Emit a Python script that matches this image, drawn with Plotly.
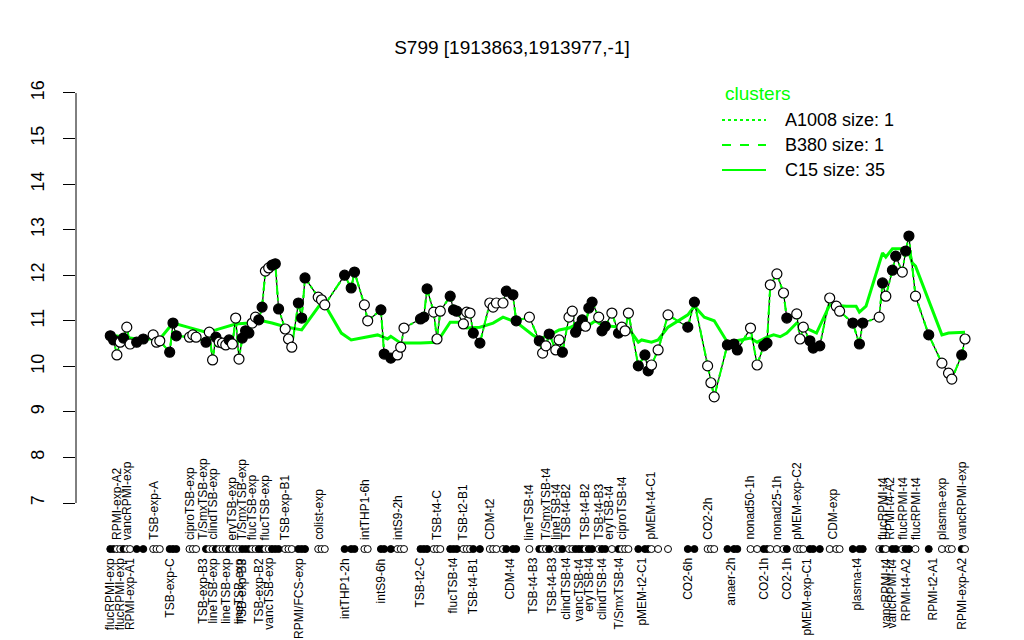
import plotly.graph_objects as go

# ---------------- data ----------------
sample_idx = [1, 2, 3, 4, 5, 6, 7, 9, 11, 14, 15, 16, 19, 20, 21, 25, 26, 27, 30, 31,
              32, 33, 34, 35, 36, 37, 38, 39, 40, 41, 42, 43, 44, 45, 46, 47, 48, 49, 50, 51,
              52, 54, 55, 56, 58, 59, 60, 64, 65, 66, 72, 74, 75, 78, 79, 83, 84, 86, 88, 89,
              90, 95, 96, 97, 99, 100, 101, 104, 105, 106, 108, 109, 110, 111, 113, 116, 117, 118, 120, 121,
              123, 124, 128, 131, 132, 133, 134, 136, 137, 138, 140, 141, 142, 143, 144, 145, 146, 147, 149, 150,
              151, 153, 155, 156, 157, 158, 161, 163, 164, 165, 167, 170, 176, 178, 182, 183, 184, 188, 190, 191,
              195, 197, 199, 200, 201, 203, 205, 206, 209, 210, 211, 213, 214, 216, 219, 221, 222, 226, 228, 229,
              234, 235, 236, 238, 239, 241, 242, 243, 245, 249, 253, 255, 256, 259, 260]
expr = [10.67, 10.58, 10.25, 10.53, 10.62, 10.86, 10.49, 10.53, 10.60, 10.69, 10.53, 10.56, 10.31, 10.95, 10.67, 10.64, 10.69, 10.64, 10.53, 10.75,
        10.14, 10.64, 10.53, 10.51, 10.47, 10.58, 10.49, 11.06, 10.16, 10.62, 10.78, 10.73, 10.95, 11.08, 11.02, 11.30, 12.09, 12.16, 12.22, 12.25,
        11.26, 10.82, 10.60, 10.42, 11.39, 11.06, 11.94, 11.52, 11.46, 11.35, 12.00, 11.72, 12.07, 11.35, 11.00, 11.24, 10.27, 10.18, 10.25, 10.42,
        10.84, 11.04, 11.08, 11.70, 11.19, 10.60, 11.21, 11.54, 11.24, 11.21, 10.93, 11.19, 11.17, 10.73, 10.51, 11.39, 11.30, 11.39, 11.39, 11.65,
        11.57, 11.00, 11.08, 10.56, 10.29, 10.45, 10.71, 10.36, 10.58, 10.31, 11.08, 11.21, 10.75, 10.88, 11.02, 10.88, 11.28, 11.41, 11.08, 10.78,
        10.88, 11.17, 10.73, 10.86, 10.78, 11.17, 10.01, 10.25, 9.90, 10.03, 10.36, 11.13, 10.86, 11.41, 10.01, 9.64, 9.33, 10.47, 10.49, 10.36,
        10.84, 10.03, 10.45, 10.51, 11.79, 12.03, 11.61, 11.06, 11.15, 10.60, 10.86, 10.56, 10.40, 10.45, 11.50, 11.32, 11.21, 10.95, 10.49, 10.95,
        11.08, 11.83, 11.54, 12.11, 12.42, 12.07, 12.53, 12.86, 11.54, 10.69, 10.07, 9.85, 9.72, 10.25, 10.60]
filled = [1, 1, 0, 0, 1, 0, 0, 1, 1, 0, 0, 0, 1, 1, 1, 0, 0, 0, 1, 0,
          0, 1, 0, 0, 0, 1, 0, 0, 0, 1, 1, 1, 0, 0, 1, 1, 0, 0, 1, 1,
          1, 0, 0, 0, 1, 1, 1, 0, 0, 0, 1, 1, 1, 0, 0, 1, 1, 1, 0, 0,
          0, 1, 1, 1, 0, 0, 0, 1, 1, 1, 0, 0, 0, 1, 1, 0, 0, 0, 0, 1,
          1, 1, 0, 1, 0, 0, 1, 0, 0, 1, 0, 0, 1, 1, 1, 0, 1, 1, 0, 1,
          1, 0, 1, 0, 0, 0, 1, 1, 1, 0, 0, 0, 1, 1, 0, 0, 0, 1, 1, 1,
          0, 0, 1, 1, 0, 0, 0, 1, 0, 0, 0, 1, 1, 1, 0, 0, 0, 1, 1, 1,
          0, 1, 0, 1, 1, 0, 1, 1, 0, 1, 0, 0, 0, 1, 0]

# cluster C15 (size 35) mean profile
c15_idx = [0, 4, 9, 16, 20, 25, 30, 33, 36, 39, 43, 47, 50, 54, 59, 65, 66, 71, 74, 82,
           85, 86, 89, 95, 100, 104, 107, 109, 113, 117, 120, 124, 129, 131, 135, 137, 140, 143, 146, 148,
           150, 155, 158, 161, 162, 165, 167, 170, 173, 176, 178, 181, 184, 188, 192, 195, 197, 200, 202, 204,
           206, 209, 213, 215, 219, 224, 227, 228, 230, 235, 236, 238, 241, 243, 244, 245, 253, 255, 260]
c15_val = [10.70, 10.65, 10.60, 10.60, 10.95, 10.85, 10.75, 10.80, 10.86, 10.93, 10.95, 11.00, 10.95, 10.87, 10.80, 11.40, 11.35, 10.73, 10.58, 10.69,
           10.60, 10.66, 10.51, 10.51, 10.53, 10.97, 10.97, 10.84, 10.86, 10.95, 11.08, 10.97, 10.69, 10.60, 10.72, 10.80, 10.84, 10.95, 10.90, 11.00,
           10.90, 10.86, 10.84, 10.53, 10.58, 10.53, 10.58, 10.86, 11.00, 11.13, 11.32, 11.08, 11.00, 10.53, 10.58, 10.62, 10.53, 10.64, 10.69, 10.65,
           10.73, 10.95, 10.80, 10.73, 11.35, 11.32, 11.32, 11.19, 11.32, 12.49, 12.40, 12.58, 12.58, 12.50, 12.27, 12.20, 10.69, 10.73, 10.75]

top_label_idx = [3, 6, 14, 25, 29, 32, 38, 41, 44, 48, 54, 64, 78, 88, 100, 108, 116, 128, 133, 136,
                 139, 145, 149, 152, 156, 165, 182, 195, 203, 209, 220, 235, 237, 241, 245, 253, 259]
top_label_text = ["RPMI-exp-A2", "vancRPMI-exp", "TSB-exp-A", "ciproTSB-exp", "T/SmxTSB-exp",
                  "clindTSB-exp", "eryTSB-exp", "T/SmxTSB-exp", "flucTSB-exp", "flucTSB-exp",
                  "TSB-exp-B1", "colist-exp", "intTHP1-6h", "intS9-2h", "TSB-t4-C", "TSB-t2-B1",
                  "CDM-t2", "lineTSB-t4", "T/SmxTSB-t4", "lineTSB-t4", "TSB-t4-B2", "TSB-t4-B2",
                  "TSB-t4-B3", "eryTSB-t4", "ciproTSB-t4", "pMEM-t4-C1", "CO2-2h", "nonad50-1h",
                  "nonad25-1h", "pMEM-exp-C2", "CDM-exp", "flucRPMI-t4", "RPMI-t4-A2",
                  "flucRPMI-t4", "flucRPMI-t4", "plasma-exp", "vancRPMI-exp"]
bottom_label_idx = [1, 4, 7, 19, 29, 32, 36, 40, 41, 46, 49, 58, 72, 83, 95, 105, 111, 122, 129, 135,
                    139, 143, 146, 150, 155, 162, 176, 189, 199, 206, 212, 227, 236, 238, 242, 250, 259]
bottom_label_text = ["flucRPMI-exp", "flucRPMI-exp", "RPMI-exp-A1", "TSB-exp-C", "TSB-exp-B3",
                     "lineTSB-exp", "lineTSB-exp", "lineTSB-exp", "TSB-exp-B3", "TSB-exp-B2",
                     "vancTSB-exp", "RPMI/FCS-exp", "intTHP1-2h", "intS9-6h", "TSB-t2-C",
                     "flucTSB-t4", "TSB-t4-B1", "CDM-t4", "TSB-t4-B3", "TSB-t4-B3", "clindTSB-t4",
                     "vancTSB-t4", "eryTSB-t4", "clindTSB-t4", "T/SmxTSB-t4", "pMEM-t2-C1",
                     "CO2-6h", "anaer-2h", "CO2-1h", "CO2-1h", "pMEM-exp-C1", "plasma-t4",
                     "vancRPMI-t4", "vancRPMI-t4", "RPMI-t4-A2", "RPMI-t2-A1", "RPMI-exp-A2"]

y_ticks = [7, 8, 9, 10, 11, 12, 13, 14, 15, 16]
legend_names = ["A1008 size: 1", "B380 size: 1", "C15 size: 35"]
title_text = "S799 [1913863,1913977,-1]"

# ---------------- layout helpers ----------------
GREEN = "#00FF00"
FONT = "Liberation Sans, Arial, Helvetica, sans-serif"
OFF = 8                      # default page body margin of the html page
W, H = 1024 - OFF, 640 - OFF
L, T, B, R = 76 - OFF, 80 - OFF, 10, 24
PW, PH = W - L - R, H - T - B   # 924 x 550


def px(xp):   # page pixel -> paper x
    return (xp - OFF - L) / PW


def py(yp):   # page pixel -> paper y
    return (H - B - (yp - OFF)) / PH


Y_RANGE = [4.213, 16.285]
DOT_ROW_Y = 5.99
TOP_LAB_Y = 6.166
BOT_LAB_Y = 5.815
X_RANGE = [-9.39, 270.6]
LAB_SIZE = 12

fig = go.Figure()

# cluster mean line (C15)
fig.add_trace(go.Scatter(x=c15_idx, y=c15_val, mode="lines",
                         line=dict(color=GREEN, width=3), hoverinfo="skip", showlegend=False))
# gene profile (black) with green dashed / dotted single-member clusters on top
fig.add_trace(go.Scatter(x=sample_idx, y=expr, mode="lines",
                         line=dict(color="black", width=1.2), showlegend=False))
fig.add_trace(go.Scatter(x=sample_idx, y=expr, mode="lines",
                         line=dict(color=GREEN, width=2, dash="dash"), showlegend=False))
fig.add_trace(go.Scatter(x=sample_idx, y=expr, mode="lines",
                         line=dict(color=GREEN, width=2, dash="dot"), showlegend=False))

colors = ["black" if f else "white" for f in filled]
fig.add_trace(go.Scatter(x=sample_idx, y=expr, mode="markers",
                         marker=dict(size=10, color=colors, line=dict(color="black", width=1.2)),
                         showlegend=False))
# sample dot row
fig.add_trace(go.Scatter(x=sample_idx, y=[DOT_ROW_Y] * len(sample_idx), mode="markers",
                         marker=dict(size=7, color=colors, line=dict(color="black", width=1)),
                         showlegend=False, cliponaxis=False))

annotations = []
for i, t in zip(top_label_idx, top_label_text):
    annotations.append(dict(x=i, y=TOP_LAB_Y, xref="x", yref="y", text=t, textangle=-90,
                            showarrow=False, xanchor="center", yanchor="bottom",
                            font=dict(family=FONT, size=LAB_SIZE, color="black"), borderpad=0))
for i, t in zip(bottom_label_idx, bottom_label_text):
    annotations.append(dict(x=i, y=BOT_LAB_Y, xref="x", yref="y", text=t, textangle=-90,
                            showarrow=False, xanchor="center", yanchor="top",
                            font=dict(family=FONT, size=LAB_SIZE, color="black"), borderpad=0))

# legend (drawn manually, R style)
annotations.append(dict(x=px(757), y=py(93), xref="paper", yref="paper", text="clusters",
                        showarrow=False, xanchor="center", yanchor="middle",
                        font=dict(family=FONT, size=19, color=GREEN)))
shapes = []
for name, dash, yp in zip(legend_names, ["dot", "dash", "solid"], [120, 145, 170]):
    shapes.append(dict(type="line", xref="paper", yref="paper", x0=px(722), x1=px(766),
                       y0=py(yp), y1=py(yp), line=dict(color=GREEN, width=2, dash=dash)))
    annotations.append(dict(x=px(783), y=py(yp), xref="paper", yref="paper", text=name,
                            showarrow=False, xanchor="left", yanchor="middle",
                            font=dict(family=FONT, size=18, color="black")))

# y axis line spanning only 7..16
shapes.append(dict(type="line", xref="paper", yref="y", x0=0, x1=0, y0=y_ticks[0], y1=y_ticks[-1],
                   line=dict(color="black", width=1)))

fig.update_layout(
    width=W, height=H,
    margin=dict(l=L, r=R, t=T, b=B),
    paper_bgcolor="white", plot_bgcolor="white",
    title=dict(text=title_text, x=(512 - OFF) / W, xref="container", y=1 - (47 - OFF) / H,
               yref="container", xanchor="center", yanchor="middle",
               font=dict(family=FONT, size=19, color="black")),
    xaxis=dict(range=X_RANGE, visible=False, showgrid=False, zeroline=False),
    yaxis=dict(range=Y_RANGE, tickvals=y_ticks, ticktext=[str(v) for v in y_ticks],
               ticks="outside", ticklen=12, tickcolor="black", tickwidth=1,
               tickangle=-90, ticklabelstandoff=12,
               tickfont=dict(family=FONT, size=18, color="black"),
               showgrid=False, zeroline=False, showline=False),
    annotations=annotations,
    shapes=shapes,
    showlegend=False,
)

fig.write_html("out.html")
